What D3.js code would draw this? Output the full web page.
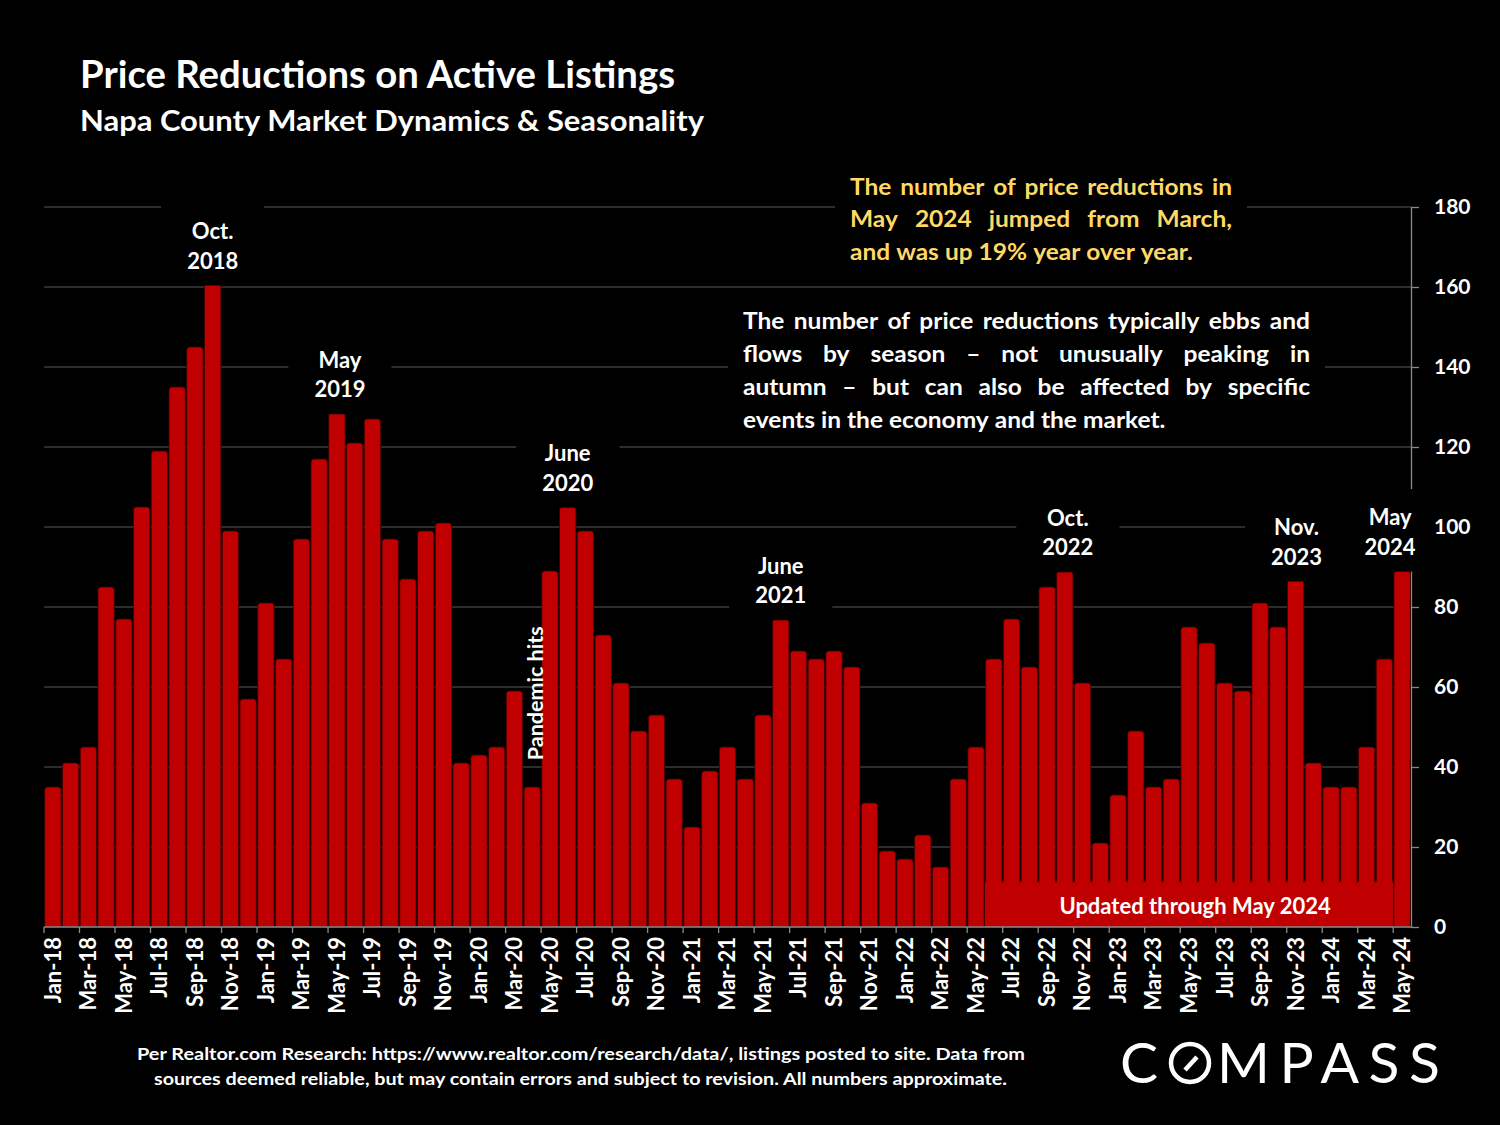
<!DOCTYPE html>
<meta charset="utf-8">
<script src="https://d3js.org/d3.v7.min.js"></script>
<body>
<div id="chart"></div>
<style>
 body { margin: 0; background: #000; }
 text { font-family: Lato, 'Open Sans', sans-serif; font-weight: 700; fill: #fff; }
</style>
<script>

// months shown on the x axis (every month, Jan-18 .. May-24)
var months = [
  "Jan-18","Feb-18","Mar-18","Apr-18","May-18","Jun-18","Jul-18","Aug-18","Sep-18","Oct-18","Nov-18","Dec-18",
  "Jan-19","Feb-19","Mar-19","Apr-19","May-19","Jun-19","Jul-19","Aug-19","Sep-19","Oct-19","Nov-19","Dec-19",
  "Jan-20","Feb-20","Mar-20","Apr-20","May-20","Jun-20","Jul-20","Aug-20","Sep-20","Oct-20","Nov-20","Dec-20",
  "Jan-21","Feb-21","Mar-21","Apr-21","May-21","Jun-21","Jul-21","Aug-21","Sep-21","Oct-21","Nov-21","Dec-21",
  "Jan-22","Feb-22","Mar-22","Apr-22","May-22","Jun-22","Jul-22","Aug-22","Sep-22","Oct-22","Nov-22","Dec-22",
  "Jan-23","Feb-23","Mar-23","Apr-23","May-23","Jun-23","Jul-23","Aug-23","Sep-23","Oct-23","Nov-23","Dec-23",
  "Jan-24","Feb-24","Mar-24","Apr-24","May-24"
]

// number of price reductions per month
var reductions = [
  35, 41, 45, 85, 77, 105, 119, 135, 145, 161, 99, 57,
  81, 67, 97, 117, 129, 121, 127, 97, 87, 99, 101, 41,
  43, 45, 59, 35, 89, 105, 99, 73, 61, 49, 53, 37,
  25, 39, 45, 37, 53, 77, 69, 67, 69, 65, 31, 19,
  17, 23, 15, 37, 45, 67, 77, 65, 85, 89, 61, 21,
  33, 49, 35, 37, 75, 71, 61, 59, 81, 75, 87, 41,
  35, 35, 45, 67, 89
]

var yTicks = [0, 20, 40, 60, 80, 100, 120, 140, 160, 180]

// callouts: month, text lines, value where first line sits
var callouts = [
  {m: "Oct-18", lines: ["Oct.", "2018"], v: 174, dx: 0},
  {m: "May-19", lines: ["May", "2019"], v: 141.8, dx: 3},
  {m: "Jun-20", lines: ["June", "2020"], v: 118.5, dx: 0},
  {m: "Jun-21", lines: ["June", "2021"], v: 90.3, dx: 0},
  {m: "Oct-22", lines: ["Oct.", "2022"], v: 102.3, dx: 3},
  {m: "Nov-23", lines: ["Nov.", "2023"], v: 100, dx: 1},
  {m: "May-24", lines: ["May", "2024"], v: 102.5, dx: -12}
]

var noteYellow = ["The number of price reductions in", "May 2024 jumped from March,", "and was up 19% year over year."]
var noteWhite = ["The number of price reductions typically ebbs and", "flows by season \u2013 not unusually peaking in",
                 "autumn \u2013 but can also be affected by specific", "events in the economy and the market."]

var W = 1500, H = 1125

var svg = d3.select("#chart").append("svg")
    .attr("width", W).attr("height", H)

svg.append("rect").attr("width", W).attr("height", H).attr("fill", "#000")

var x = d3.scaleBand()
    .domain(months)
    .range([44, 1411])
    .paddingInner(0.08)
    .paddingOuter(0.04)

var y = d3.scaleLinear()
    .domain([0, 180])
    .range([927, 207])

var step = x.step(), half = step * 0.04

// gridlines
svg.append("g").selectAll("line")
  .data(yTicks.slice(1))
  .enter().append("line")
    .attr("x1", 44).attr("x2", 1411)
    .attr("y1", function(d){ return y(d) }).attr("y2", function(d){ return y(d) })
    .attr("stroke", "#3d3d3d").attr("stroke-width", 1.3)

// right axis line and ticks (labels are drawn last)
var yAxis = svg.append("g")
    .attr("transform", "translate(1411,0)")
    .call(d3.axisRight(y).tickValues(yTicks).tickSize(8).tickSizeOuter(0).tickFormat(""))
yAxis.select(".domain").attr("stroke", "#8a8a8a").attr("stroke-width", 1.3)
yAxis.selectAll(".tick line").attr("stroke", "#8a8a8a").attr("stroke-width", 1.3)

// bars with slightly rounded tops
function barPath(d, i) {
  var x0 = x(months[i]), w = x.bandwidth(), y0 = y(0), y1 = y(d), r = 3
  return "M" + x0 + "," + y0 + "V" + (y1 + r) + "Q" + x0 + "," + y1 + " " + (x0 + r) + "," + y1 +
         "H" + (x0 + w - r) + "Q" + (x0 + w) + "," + y1 + " " + (x0 + w) + "," + (y1 + r) + "V" + y0 + "Z"
}
svg.append("g").selectAll("path")
  .data(reductions)
  .enter().append("path")
    .attr("d", barPath)
    .attr("fill", "#c00000")
    .attr("stroke", "#3a0000")
    .attr("stroke-width", 0.8)

// "updated" banner over the lower part of the bars
var bx0 = x("Jun-22") - half, bx1 = x("Apr-24") + x.bandwidth() + half
svg.append("rect")
    .attr("x", bx0).attr("y", y(11.2))
    .attr("width", bx1 - bx0).attr("height", y(0) - y(11.2))
    .attr("fill", "#c00000")
svg.append("text")
    .attr("x", (bx0 + bx1) / 2 + 6).attr("y", y(3.3))
    .attr("text-anchor", "middle")
    .style("font-size", "22px")
    .text("Updated through May 2024")

// bottom axis line + ticks every two months
svg.append("line")
    .attr("x1", 44).attr("x2", 1411).attr("y1", y(0)).attr("y2", y(0))
    .attr("stroke", "#8a8a8a").attr("stroke-width", 1.3)
var labelled = months.filter(function(d, i){ return i % 2 === 0 })
svg.append("g").selectAll("line")
  .data(labelled)
  .enter().append("line")
    .attr("x1", function(d){ return x(d) - half }).attr("x2", function(d){ return x(d) - half })
    .attr("y1", y(0)).attr("y2", y(0) + 6)
    .attr("stroke", "#8a8a8a").attr("stroke-width", 1.3)
svg.append("g").selectAll("text")
  .data(labelled)
  .enter().append("text")
    .attr("transform", function(d){ return "translate(" + (x(d) + x.bandwidth() / 2) + "," + (y(0) + 10) + ") rotate(-90)" })
    .attr("text-anchor", "end")
    .attr("dy", "0.36em")
    .style("font-size", "22px")
    .text(function(d){ return d })

// pandemic note
svg.append("text")
    .attr("transform", "translate(" + (x("Apr-20") + x.bandwidth() / 2 + 3) + "," + (y(41.7)) + ") rotate(-90)")
    .attr("dy", "0.36em")
    .style("font-size", "21.5px")
    .text("Pandemic hits")

// callout labels with black backing
callouts.forEach(function(c) {
  var g = svg.append("g")
  var cx = x(c.m) + x.bandwidth() / 2 + c.dx
  var t = g.append("text").attr("text-anchor", "middle").style("font-size", "22px")
  c.lines.forEach(function(l, j) {
    t.append("tspan").attr("x", cx).attr("y", y(c.v) + 8 + j * 29.5).text(l)
  })
  var b = t.node().getBBox()
  g.insert("rect", "text")
    .attr("x", b.x - 26).attr("y", b.y - 14)
    .attr("width", b.width + 52).attr("height", b.height + 26)
    .attr("fill", "#000")
})

// justified paragraph helper (text stretched a little sideways to match the original face)
function paragraph(lines, x0, width, y0, lh, color, bgBox) {
  var sx = 1.09
  svg.append("rect").attr("fill", "#000")
    .attr("x", bgBox[0]).attr("y", bgBox[1]).attr("width", bgBox[2]).attr("height", bgBox[3])
  var g = svg.append("g")
    .attr("transform", "translate(" + x0 + ",0) scale(" + sx + ",1)")
  lines.forEach(function(line, i) {
    var words = line.split(" ")
    var t = g.append("text").attr("y", y0 + i * lh).style("font-size", "22.5px").style("fill", color)
    var spans = words.map(function(w){ return t.append("tspan").text(w) })
    var widths = spans.map(function(s){ return s.node().getComputedTextLength() })
    var gap = (width / sx - d3.sum(widths)) / (words.length - 1)
    if (i === lines.length - 1) gap = 5.5
    var cx = 0
    spans.forEach(function(s, j){ s.attr("x", cx); cx += widths[j] + gap })
  })
}

paragraph(noteYellow, 850, 382, 195, 32.5, "#ffd966", [835, 168, 412, 100])
paragraph(noteWhite, 743, 567, 329, 33, "#fff", [728, 300, 597, 140])

// right axis labels on top of everything
var yLabels = svg.append("g")
    .attr("transform", "translate(1411,0)")
    .call(d3.axisRight(y).tickValues(yTicks).tickSize(0).tickPadding(23))
yLabels.select(".domain").remove()
yLabels.selectAll(".tick text")
    .attr("fill", "#fff")
    .style("font-family", "Lato, sans-serif").style("font-weight", 700).style("font-size", "21px")

// titles
svg.append("text").attr("x", 80).attr("y", 88)
    .attr("textLength", 595).attr("lengthAdjust", "spacingAndGlyphs")
    .style("font-size", "38px")
    .text("Price Reductions on Active Listings")
svg.append("text").attr("x", 80).attr("y", 131)
    .attr("textLength", 624).attr("lengthAdjust", "spacingAndGlyphs")
    .style("font-size", "28px")
    .text("Napa County Market Dynamics & Seasonality")

// footer
svg.append("text").attr("x", 137).attr("y", 1060)
    .attr("textLength", 888).attr("lengthAdjust", "spacingAndGlyphs")
    .style("font-size", "17px")
    .text("Per Realtor.com Research:  https://www.realtor.com/research/data/, listings posted to site. Data from")
svg.append("text").attr("x", 154).attr("y", 1085)
    .attr("textLength", 853).attr("lengthAdjust", "spacingAndGlyphs")
    .style("font-size", "17px")
    .text("sources deemed reliable, but may contain errors and subject to revision. All numbers approximate.")

// COMPASS wordmark
var logo = svg.append("g")
logo.append("text").attr("x", 1120).attr("y", 1083)
    .style("font-size", "57px").style("font-weight", 400)
    .text("C")
logo.append("circle").attr("cx", 1190).attr("cy", 1063).attr("r", 19)
    .attr("fill", "none").attr("stroke", "#fff").attr("stroke-width", 4.5)
logo.append("line")
    .attr("x1", 1185).attr("y1", 1070).attr("x2", 1197).attr("y2", 1057)
    .attr("stroke", "#fff").attr("stroke-width", 4.5)
logo.append("text").attr("x", 1217).attr("y", 1083)
    .attr("textLength", 223).attr("lengthAdjust", "spacing")
    .style("font-size", "57px").style("font-weight", 400)
    .text("MPASS")

</script>
</body>
